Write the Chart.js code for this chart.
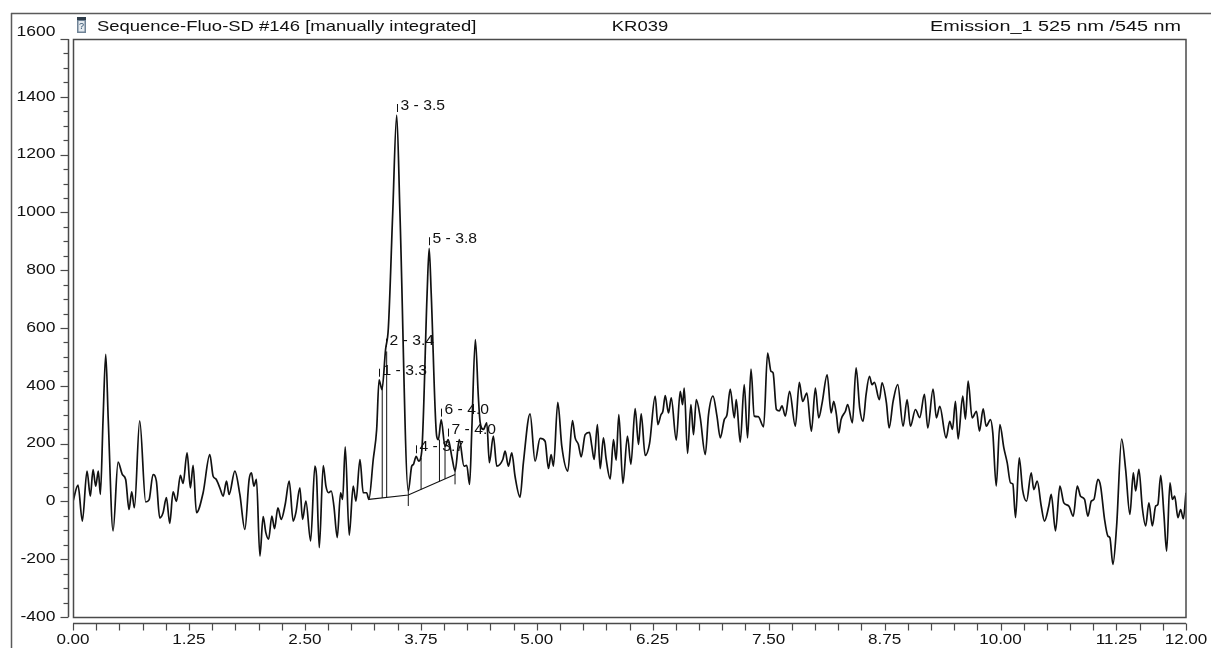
<!DOCTYPE html>
<html>
<head>
<meta charset="utf-8">
<script src="https://cdn.jsdelivr.net/npm/chart.js@4.4.1/dist/chart.umd.min.js"></script>
<style>
  html, body { margin: 0; padding: 0; background: #ffffff; }
  canvas { display: block; }
</style>
</head>
<body>
<canvas id="chrom" width="1211" height="648"></canvas>
<script>
// Retention time (min) and emission signal of the fluorescence trace
const times = [
  0.000, 0.054, 0.101, 0.151, 0.187, 0.216, 0.245, 0.273, 0.295, 0.324, 0.353, 0.380, 0.432, 0.486, 0.532,
  0.568, 0.604, 0.633, 0.662, 0.719, 0.784, 0.820, 0.863, 0.899, 0.935, 0.971, 1.007, 1.043, 1.079, 1.115,
  1.158, 1.187, 1.230, 1.266, 1.295, 1.331, 1.403, 1.475, 1.511, 1.540, 1.583, 1.619, 1.655, 1.683, 1.745,
  1.799, 1.853, 1.899, 1.924, 1.950, 1.978, 2.015, 2.050, 2.079, 2.109, 2.144, 2.173, 2.209, 2.245, 2.288,
  2.331, 2.374, 2.403, 2.446, 2.475, 2.511, 2.562, 2.608, 2.626, 2.655, 2.698, 2.727, 2.756, 2.784, 2.813,
  2.849, 2.885, 2.907, 2.935, 2.978, 3.021, 3.051, 3.094, 3.129, 3.166, 3.190, 3.237, 3.274, 3.300, 3.331,
  3.370, 3.400, 3.447, 3.490, 3.525, 3.615, 3.652, 3.670, 3.700, 3.727, 3.760, 3.818, 3.840, 3.862, 3.921,
  3.939, 3.970, 4.011, 4.045, 4.087, 4.119, 4.165, 4.216, 4.245, 4.276, 4.300, 4.338, 4.370, 4.389, 4.425,
  4.461, 4.489, 4.532, 4.569, 4.634, 4.659, 4.694, 4.731, 4.766, 4.820, 4.856, 4.928, 4.982, 5.036, 5.090,
  5.126, 5.155, 5.180, 5.227, 5.270, 5.335, 5.385, 5.414, 5.449, 5.479, 5.522, 5.568, 5.594, 5.619, 5.654,
  5.684, 5.719, 5.748, 5.792, 5.827, 5.856, 5.885, 5.929, 5.978, 6.015, 6.061, 6.097, 6.126, 6.169, 6.216,
  6.277, 6.306, 6.339, 6.360, 6.385, 6.421, 6.450, 6.504, 6.547, 6.572, 6.590, 6.626, 6.662, 6.690, 6.720,
  6.763, 6.817, 6.852, 6.900, 6.943, 6.979, 7.022, 7.051, 7.086, 7.130, 7.151, 7.194, 7.237, 7.273, 7.310,
  7.345, 7.388, 7.446, 7.489, 7.526, 7.548, 7.584, 7.616, 7.644, 7.680, 7.726, 7.788, 7.831, 7.867, 7.912,
  7.961, 8.004, 8.040, 8.077, 8.131, 8.174, 8.202, 8.231, 8.256, 8.281, 8.328, 8.352, 8.403, 8.443, 8.482,
  8.518, 8.551, 8.587, 8.615, 8.640, 8.694, 8.723, 8.770, 8.799, 8.842, 8.892, 8.950, 8.993, 9.029, 9.083,
  9.129, 9.180, 9.216, 9.273, 9.309, 9.345, 9.414, 9.453, 9.482, 9.514, 9.543, 9.593, 9.622, 9.651, 9.694,
  9.741, 9.773, 9.813, 9.846, 9.892, 9.917, 9.954, 9.993, 10.036, 10.072, 10.108, 10.133, 10.162, 10.202, 10.238,
  10.281, 10.331, 10.359, 10.396, 10.439, 10.474, 10.521, 10.547, 10.593, 10.640, 10.683, 10.737, 10.784, 10.828, 10.863,
  10.906, 10.942, 10.979, 11.007, 11.050, 11.079, 11.122, 11.158, 11.179, 11.212, 11.252, 11.306, 11.349, 11.395, 11.432,
  11.457, 11.492, 11.529, 11.565, 11.600, 11.637, 11.673, 11.697, 11.727, 11.762, 11.791, 11.827, 11.853, 11.878, 11.913,
  11.942, 11.971, 12.000
];
const signal = [
  0, 56, -68, 105, 18, 110, 53, 105, 24, 283, 509, 283, -102, 136, 93,
  76, -28, 33, -22, 279, -2, 5, 93, 70, -57, -39, 13, -76, 33, 0,
  90, 62, 168, 47, 125, -39, 30, 162, 87, 78, 47, 18, 70, 24, 105,
  24, -97, 76, 99, 53, 76, -189, -53, -108, -131, -51, -94, -22, -62, -10,
  70, -68, -39, 47, -62, 1, -137, 122, 87, -160, 124, 53, 30, 36, -16,
  -125, 30, 7, 189, -117, 53, 1, 145, 30, 30, 7, 145, 249, 421, 387,
  525, 600, 997, 1337, 997, 36, 122, 128, 156, 139, 174, 720, 876, 720, 226,
  214, 283, 190, 214, 150, 105, 214, 122, 125, 59, 250, 560, 364, 275, 249,
  272, 134, 226, 122, 145, 174, 122, 168, 87, 15, 134, 303, 139, 218, 208,
  114, 162, 122, 343, 191, 105, 280, 220, 197, 154, 231, 239, 191, 145, 266,
  113, 220, 147, 78, 214, 143, 300, 62, 226, 128, 321, 197, 303, 159, 200,
  364, 266, 300, 312, 366, 306, 358, 212, 381, 335, 392, 166, 335, 231, 352,
  289, 162, 300, 364, 295, 220, 283, 300, 389, 289, 352, 205, 404, 220, 458,
  295, 293, 258, 513, 450, 445, 318, 313, 331, 295, 381, 260, 412, 346, 375,
  243, 392, 289, 341, 438, 306, 346, 300, 237, 283, 312, 335, 272, 462, 323,
  277, 370, 433, 404, 412, 352, 410, 341, 254, 346, 404, 260, 352, 260, 318,
  290, 370, 254, 389, 289, 329, 220, 277, 249, 346, 216, 364, 285, 416, 289,
  312, 243, 320, 260, 283, 237, 53, 266, 185, 134, 64, 60, -56, 151, 41,
  1, 99, 41, 70, -16, -68, -16, 24, -102, 53, -5, -16, -51, 53, 18,
  7, -51, 1, 7, 76, 53, -62, -120, -125, -218, -85, 216, 111, -45, 99,
  36, 111, -22, -85, -5, -85, -16, -10, 90, -45, -172, 64, 7, 18, -56,
  -28, -60, 30
];

// Manual integration: common baseline and perpendicular drop lines
const baselineTimes = [3.190, 3.615, 4.119];
const baselineValues = [7, 22, 93];
const dropTimes = [3.334, 3.382, 3.615, 3.753, 3.951, 4.011, 4.119];
const dropFrom = [12, 14, -16, 41, 69, 78, 59];
const dropTo = [398, 519, 41, 150, 214, 190, 105];

// Integrated peaks: number and apex retention time
const peakNumbers = [1, 2, 3, 4, 5, 6, 7];
const peakTimes = [3.300, 3.370, 3.490, 3.700, 3.840, 3.970, 4.045];

// Axis labels
const xTickLabels = ['0.00', '1.25', '2.50', '3.75', '5.00', '6.25', '7.50', '8.75', '10.00', '11.25', '12.00'];
const yTickLabels = ['-400', '-200', '0', '200', '400', '600', '800', '1000', '1200', '1400', '1600'];

// Header line
const headerLeft = 'Sequence-Fluo-SD #146 [manually integrated]';
const headerMiddle = 'KR039';
const headerRight = 'Emission_1 525 nm /545 nm';

const FONT = '"Liberation Sans", Arial, Helvetica, sans-serif';
const INK = '#111111';
const FRAME = '#4a4a4a';

function drawText(ctx, text, x, y, o) {
  ctx.save();
  ctx.font = (o.size || 14) + 'px ' + FONT;
  ctx.fillStyle = o.color || INK;
  ctx.textAlign = o.align || 'left';
  ctx.textBaseline = o.baseline || 'middle';
  ctx.translate(x, y);
  ctx.scale(o.sx || 1, 1);
  ctx.fillText(text, 0, 0);
  ctx.restore();
}

function line(ctx, x1, y1, x2, y2) {
  ctx.beginPath();
  ctx.moveTo(x1, y1);
  ctx.lineTo(x2, y2);
  ctx.stroke();
}

// Frame, offset axes, header and peak annotations in the report style
const reportLayout = {
  id: 'reportLayout',
  afterDraw(chart) {
    const ctx = chart.ctx;
    const area = chart.chartArea;
    const xs = chart.scales.x;
    const ys = chart.scales.y;

    ctx.save();
    ctx.lineCap = 'butt';

    // outer page border (top and left)
    ctx.strokeStyle = '#5a5a5a';
    ctx.lineWidth = 1.5;
    line(ctx, 11, 13.5, 1211, 13.5);
    line(ctx, 11.5, 13, 11.5, 648);

    // plot frame
    ctx.strokeStyle = FRAME;
    ctx.lineWidth = 1.5;
    ctx.strokeRect(area.left + 0.5, area.top + 0.5, area.right - area.left - 0.5, area.bottom - area.top);

    // y axis, set off to the left of the frame
    const yAxisX = area.left - 4.5;
    line(ctx, yAxisX, ys.getPixelForValue(1600), yAxisX, ys.getPixelForValue(-400));
    ctx.lineWidth = 1.2;
    for (let v = -400; v <= 1600; v += 50) {
      const py = Math.round(ys.getPixelForValue(v)) + 0.5;
      const major = v % 200 === 0;
      line(ctx, yAxisX - (major ? 8 : 5), py, yAxisX, py);
    }
    yTickLabels.forEach((lab, i) => {
      const v = Number(lab);
      let py = ys.getPixelForValue(v);
      if (i === yTickLabels.length - 1) py -= 7; // top label clears the frame corner
      drawText(ctx, lab, yAxisX - 13, py, { size: 14, align: 'right', sx: 1.25 });
    });

    // x axis, set off below the frame
    ctx.lineWidth = 1.5;
    const xAxisY = area.bottom + 6.5;
    line(ctx, xs.getPixelForValue(0), xAxisY, xs.getPixelForValue(12), xAxisY);
    ctx.lineWidth = 1.2;
    for (let k = 0; k <= 48; k++) {
      const px = Math.round(xs.getPixelForValue(k * 0.25)) + 0.5;
      line(ctx, px, xAxisY, px, xAxisY + 7);
    }
    xTickLabels.forEach(lab => {
      drawText(ctx, lab, xs.getPixelForValue(Number(lab)), xAxisY + 17, { size: 14, align: 'center', sx: 1.22 });
    });

    // header: document icon and three text fields
    ctx.fillStyle = '#6f8396';
    ctx.fillRect(77, 17, 9, 16);
    ctx.fillStyle = '#2f3d4a';
    ctx.fillRect(77, 17, 9, 3);
    ctx.fillStyle = '#e4eaef';
    ctx.fillRect(78.5, 21, 6, 10.5);
    drawText(ctx, '?', 81.5, 26.5, { size: 9, align: 'center', color: '#2d4d6b' });
    drawText(ctx, headerLeft, 97, 31, { size: 15, baseline: 'alphabetic', sx: 1.23 });
    drawText(ctx, headerMiddle, 640, 31, { size: 15, align: 'center', baseline: 'alphabetic', sx: 1.23 });
    drawText(ctx, headerRight, 1181, 31, { size: 15, align: 'right', baseline: 'alphabetic', sx: 1.32 });

    // peak annotations: apex marker and "n - RT"
    ctx.strokeStyle = INK;
    ctx.lineWidth = 1;
    peakTimes.forEach((t, i) => {
      const apex = signal[times.indexOf(t)];
      const px = Math.round(xs.getPixelForValue(t)) + 0.5;
      const py = ys.getPixelForValue(apex);
      line(ctx, px, py - 3, px, py - 11);
      drawText(ctx, peakNumbers[i] + ' - ' + t.toFixed(1), px + 3, py - 9, { size: 14, sx: 1.12 });
    });

    ctx.restore();
  }
};

const traceData = times.map((t, i) => ({ x: t, y: signal[i] }));
const baselineData = baselineTimes.map((t, i) => ({ x: t, y: baselineValues[i] }));
const dropData = [];
dropTimes.forEach((t, i) => {
  dropData.push({ x: t, y: dropFrom[i] }, { x: t, y: dropTo[i] }, { x: t, y: null });
});

new Chart(document.getElementById('chrom'), {
  type: 'line',
  data: {
    datasets: [
      {
        label: 'Emission_1',
        data: traceData,
        borderColor: INK,
        borderWidth: 1.7,
        pointRadius: 0,
        cubicInterpolationMode: 'monotone',
        fill: false
      },
      {
        label: 'baseline',
        data: baselineData,
        borderColor: INK,
        borderWidth: 1.1,
        pointRadius: 0,
        fill: false
      },
      {
        label: 'drop lines',
        data: dropData,
        borderColor: INK,
        borderWidth: 1,
        pointRadius: 0,
        spanGaps: false,
        fill: false
      }
    ]
  },
  options: {
    responsive: false,
    devicePixelRatio: 1,
    animation: false,
    layout: { padding: { left: 73, top: 39, right: 25, bottom: 31 } },
    plugins: { legend: { display: false }, tooltip: { enabled: false } },
    scales: {
      x: { type: 'linear', min: 0, max: 12, display: false },
      y: { type: 'linear', min: -400, max: 1600, display: false }
    }
  },
  plugins: [reportLayout]
});
</script>
</body>
</html>
